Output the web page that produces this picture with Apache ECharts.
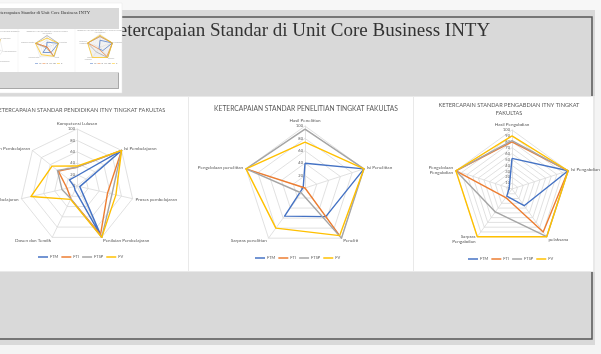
<!DOCTYPE html>
<html>
<head>
<meta charset="utf-8">
<style>
  html, body { margin: 0; padding: 0; background: #f4f4f4; }
  #chart { width: 601px; height: 354px; }
</style>
<script src="https://cdn.jsdelivr.net/npm/echarts@6/dist/echarts.min.js"></script>
</head>
<body>
<div id="chart"></div>
<script>
// legend / series
var seriesNames = ['FTM', 'FTI', 'FTSP', 'FV'];

// Standar Pendidikan (indicators listed counter-clockwise from the top)
var pendidikanAxes = ['Kompetensi Lulusan', 'Pengelolaan Pembelajaran', 'Sarpras pembelajaran',
  'Dosen dan Tendik', 'Penilaian Pembelajaran', 'Proses pembelajaran', 'Isi Pembelajaran'];
var pendidikanFTM = [18, 17, 5, 8, 100, 5, 100];
var pendidikanFTI = [33, 42, 18, 25, 95, 55, 100];
var pendidikanFTSP = [33, 44, 27, 25, 100, 63, 100];
var pendidikanFV = [35, 56, 83, 26, 100, 70, 100];

// Standar Penelitian
var penelitianAxes = ['Hasil Penelitian', 'Pengelolaan penelitian', 'Sarpras penelitian', 'Peneliti', 'Isi Penelitian'];
var penelitianFTM = [40, 3, 56, 57, 100];
var penelitianFTI = [0, 100, 0, 92, 0];
var penelitianFTSP = [95, 100, 10, 100, 100];
var penelitianFV = [74, 100, 80, 95, 100];

// Standar Pengabdian
var pengabdianAxes = ['Hasil Pengabdian', 'Pengelolaan\nPengabdian', 'Sarpras\nPengabdian', 'pelaksana', 'Isi Pengabdian'];
var pengabdianFTM = [52, 5, 15, 35, 100];
var pengabdianFTI = [80, 100, 18, 90, 100];
var pengabdianFTSP = [82, 100, 48, 100, 100];
var pengabdianFV = [90, 100, 100, 100, 100];

var colors = ['#4472C4', '#ED7D31', '#A5A5A5', '#FFC000'];
var font = 'Lato';

var chart = echarts.init(document.getElementById('chart'));

function radarBox(names, center, radius, split, mini) {
  var indicator = names.map(function (n, i) {
    var ind = { name: n, min: 0, max: 100 };
    if (i === 0 && !mini) {
      ind.axisLabel = { show: true, fontSize: 4, color: '#595959', margin: 2, fontFamily: font };
    }
    return ind;
  });
  return {
    z: 5,
    center: center,
    radius: radius,
    startAngle: 90,
    splitNumber: split,
    shape: 'polygon',
    indicator: indicator,
    axisNameGap: mini ? 1 : 3,
    axisName: {
      show: true,
      color: mini ? '#a8a8a8' : '#595959',
      fontSize: mini ? 1.4 : 4.6,
      lineHeight: mini ? 1.6 : 5.4,
      fontFamily: font
    },
    axisLabel: { show: false },
    splitArea: { show: false },
    splitLine: { lineStyle: { color: mini ? '#cfcfcf' : '#d9d9d9', width: mini ? 0.35 : 0.8 } },
    axisLine: { lineStyle: { color: mini ? '#cfcfcf' : '#d9d9d9', width: mini ? 0.35 : 0.8 } },
    axisTick: { show: false }
  };
}

function radarSeries(idx, lists, mini) {
  return {
    type: 'radar',
    radarIndex: idx,
    z: 6,
    symbol: 'none',
    data: lists.map(function (vals, i) {
      return {
        name: seriesNames[i],
        value: vals,
        lineStyle: { color: colors[i], width: mini ? 0.7 : 1.4 },
        itemStyle: { color: colors[i] }
      };
    })
  };
}

var pendidikan = [pendidikanFTM, pendidikanFTI, pendidikanFTSP, pendidikanFV];
var penelitian = [penelitianFTM, penelitianFTI, penelitianFTSP, penelitianFV];
var pengabdian = [pengabdianFTM, pengabdianFTI, pengabdianFTSP, pengabdianFV];

function legendAt(left, top, mini) {
  return {
    data: seriesNames,
    left: left,
    top: top,
    icon: 'rect',
    itemWidth: mini ? 3 : 10,
    itemHeight: mini ? 0.5 : 1.5,
    itemGap: mini ? 1 : 3,
    padding: 0,
    z: 6,
    textStyle: { fontSize: mini ? 1.2 : 4, color: '#595959', fontFamily: font, padding: mini ? [0, 0, 0, -4] : [0, 0, 0, -3] }
  };
}

var graphics = [
  // slide background
  { type: 'rect', z: 0, shape: { x: 0, y: 0, width: 601, height: 10 }, style: { fill: '#f7f7f7' } },
  { type: 'rect', z: 0, shape: { x: 0, y: 10, width: 595, height: 335 }, style: { fill: '#d9d9d9' } },
  { type: 'rect', z: 0, shape: { x: -5, y: 17, width: 597, height: 322 }, style: { fill: 'none', stroke: '#555', lineWidth: 1.5 } },
  { type: 'text', z: 0, style: { text: 'Ketercapaian Standar di Unit Core Business INTY', x: 105, y: 31,
      fontSize: 19, fontFamily: 'Liberation Serif', fill: '#333', verticalAlign: 'middle' } },
  // chart panels
  { type: 'rect', z: 0, shape: { x: 0, y: 96, width: 595, height: 176 }, style: { fill: '#e9e9e9' } },
  { type: 'rect', z: 0, shape: { x: 0, y: 97, width: 188, height: 174 }, style: { fill: '#fff' } },
  { type: 'rect', z: 0, shape: { x: 189, y: 97, width: 224, height: 174 }, style: { fill: '#fff' } },
  { type: 'rect', z: 0, shape: { x: 414, y: 97, width: 179, height: 174 }, style: { fill: '#fff' } },
  { type: 'text', z: 0, style: { text: 'KETERCAPAIAN STANDAR PENDIDIKAN ITNY TINGKAT FAKULTAS', x: 80, y: 110,
      fontSize: 5.6, fontFamily: font, fill: '#595959', align: 'center', verticalAlign: 'middle' } },
  { type: 'text', z: 0, style: { text: 'KETERCAPAIAN STANDAR PENELITIAN TINGKAT FAKULTAS', x: 306, y: 109,
      fontSize: 6.7, fontFamily: font, fill: '#595959', align: 'center', verticalAlign: 'middle' } },
  { type: 'text', z: 0, style: { text: 'KETERCAPAIN STANDAR PENGABDIAN ITNY TINGKAT\nFAKULTAS', x: 509, y: 109,
      fontSize: 5.6, lineHeight: 8, fontFamily: font, fill: '#595959', align: 'center', verticalAlign: 'middle' } },
  // thumbnail
  { type: 'rect', z: 1, shape: { x: -1, y: 3, width: 123, height: 90 }, style: { fill: '#fff', stroke: '#e4e4e4', lineWidth: 0.5 } },
  { type: 'rect', z: 1, shape: { x: 0, y: 8, width: 119, height: 21 }, style: { fill: '#d9d9d9' } },
  { type: 'rect', z: 1, shape: { x: 0, y: 72, width: 119, height: 17 }, style: { fill: '#d9d9d9' } },
  { type: 'polyline', z: 1, shape: { points: [[0, 88.5], [118.5, 88.5], [118.5, 73]] }, style: { stroke: '#777', lineWidth: 0.5, fill: 'none' } },
  { type: 'text', z: 1, style: { text: 'Ketercapaian Standar di Unit Core Business INTY', x: -5, y: 13,
      fontSize: 4.7, fontFamily: 'Liberation Serif', fill: '#333', verticalAlign: 'middle' } },
  { type: 'line', z: 1, shape: { x1: 18, y1: 29, x2: 18, y2: 72 }, style: { stroke: '#ececec', lineWidth: 0.5 } },
  { type: 'line', z: 1, shape: { x1: 75, y1: 29, x2: 75, y2: 72 }, style: { stroke: '#ececec', lineWidth: 0.5 } },
  { type: 'text', z: 1, style: { text: 'KETERCAPAIAN STANDAR PENELITIAN TINGKAT FAKULTAS', x: 47, y: 32,
      fontSize: 1.5, fontFamily: font, fill: '#999', align: 'center', verticalAlign: 'middle' } },
  { type: 'text', z: 1, style: { text: 'KETERCAPAIN STANDAR PENGABDIAN ITNY TINGKAT FAKULTAS', x: 100, y: 31,
      fontSize: 1.5, fontFamily: font, fill: '#999', align: 'center', verticalAlign: 'middle' } },
  { type: 'text', z: 1, style: { text: 'KETERCAPAIAN STANDAR PENDIDIKAN', x: 6, y: 32,
      fontSize: 1.5, fontFamily: font, fill: '#999', align: 'center', verticalAlign: 'middle' } }
];

var option = {
  animation: false,
  backgroundColor: '#f4f4f4',
  graphic: graphics,
  legend: [
    legendAt(38, 255, false),
    legendAt(255, 256, false),
    legendAt(468, 257, false),
    legendAt(35, 63, true),
    legendAt(90, 63, true)
  ],
  radar: [
    radarBox(pendidikanAxes, [77, 186], 57, 5, false),
    radarBox(penelitianAxes, [305, 188], 62, 5, false),
    radarBox(pengabdianAxes, [512, 189], 59, 10, false),
    radarBox(pendidikanAxes, [-11, 48], 14, 5, true),
    radarBox(penelitianAxes, [47, 47], 12, 5, true),
    radarBox(pengabdianAxes, [100, 47], 13, 10, true)
  ],
  series: [
    radarSeries(0, pendidikan, false),
    radarSeries(1, penelitian, false),
    radarSeries(2, pengabdian, false),
    radarSeries(3, pendidikan, true),
    radarSeries(4, penelitian, true),
    radarSeries(5, pengabdian, true)
  ]
};

chart.setOption(option);
</script>
</body>
</html>
